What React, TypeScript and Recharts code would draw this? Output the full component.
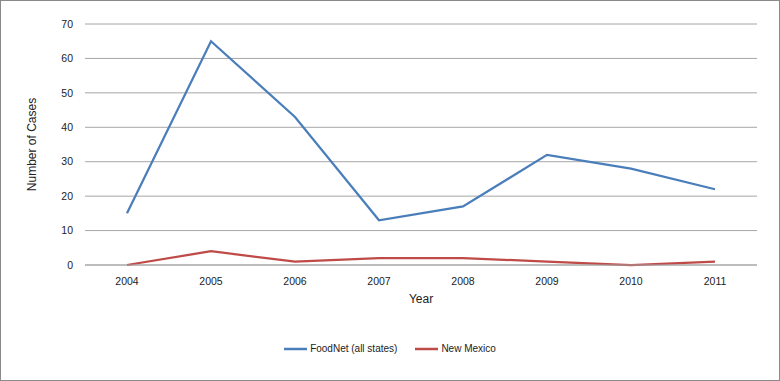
import React from 'react';
import { LineChart, Line, XAxis, YAxis, CartesianGrid, Legend } from 'recharts';

const years = ['2004', '2005', '2006', '2007', '2008', '2009', '2010', '2011'];
const foodNet = [15, 65, 43, 13, 17, 32, 28, 22];
const newMexico = [0, 4, 1, 2, 2, 1, 0, 1];
const yTicks = [0, 10, 20, 30, 40, 50, 60, 70];

const data = years.map((y, i) => ({ year: y, foodNet: foodNet[i], newMexico: newMexico[i] }));

const FONT = '"Liberation Sans", Arial, sans-serif';

const LegendContent = (props: any) => {
  const { payload } = props;
  return (
    <div style={{ display: 'flex', justifyContent: 'center', fontFamily: FONT, fontSize: 10, color: '#222' }}>
      {(payload || []).map((p: any, i: number) => (
        <div key={i} style={{ display: 'flex', alignItems: 'center', marginRight: i === 0 ? 18 : 0 }}>
          <svg width={23} height={6} style={{ marginRight: 3 }}>
            <line x1={0} y1={3} x2={23} y2={3} stroke={p.color} strokeWidth={2.5} />
          </svg>
          <span>{p.value}</span>
        </div>
      ))}
    </div>
  );
};

export default function App() {
  return (
    <div style={{ position: 'fixed', left: 0, top: 0, width: 780, height: 381, border: '1px solid #8a8a8a', boxSizing: 'border-box', background: '#fff' }}>
      <LineChart width={778} height={379} data={data} margin={{ top: 23, right: 22, left: 0, bottom: 75 }}>
        <CartesianGrid horizontal vertical={false} stroke="#a6a6a6" strokeWidth={1} />
        <XAxis
          dataKey="year"
          padding={{ left: 42, right: 42 }}
          axisLine={{ stroke: '#a6a6a6' }}
          tickLine={false}
          tickSize={0}
          tickMargin={13}
          height={40}
          tick={{ fill: '#222', fontSize: 10.5, fontFamily: FONT }}
          label={{ value: 'Year', position: 'insideBottom', offset: 2, style: { fill: '#222', fontSize: 12, fontFamily: FONT } }}
        />
        <YAxis
          domain={[0, 70]}
          ticks={yTicks}
          width={84}
          axisLine={false}
          tickLine={false}
          tickSize={0}
          tickMargin={12}
          tick={{ fill: '#222', fontSize: 10.5, fontFamily: FONT }}
          label={{ value: 'Number of Cases', angle: -90, position: 'insideLeft', offset: 31, style: { textAnchor: 'middle', fill: '#222', fontSize: 12, fontFamily: FONT } }}
        />
        <Legend
          layout="horizontal"
          verticalAlign="middle"
          align="center"
          content={<LegendContent />}
          wrapperStyle={{ position: 'absolute', top: 342, left: 0, width: 778 }}
        />
        <Line type="linear" dataKey="foodNet" name="FoodNet (all states)" stroke="#4a7ebb" strokeWidth={2.25} dot={false} isAnimationActive={false} />
        <Line type="linear" dataKey="newMexico" name="New Mexico" stroke="#be4b48" strokeWidth={2.25} dot={false} isAnimationActive={false} />
      </LineChart>
    </div>
  );
}
